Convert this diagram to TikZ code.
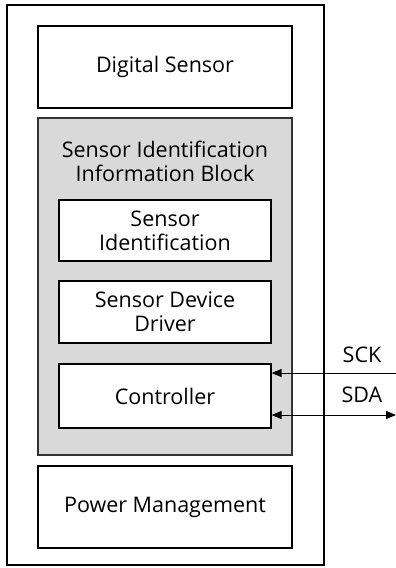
\documentclass[tikz,border=0pt]{standalone}
\usepackage{fontspec}
\setmainfont{Open Sans}
\usetikzlibrary{arrows.meta,positioning}

\tikzset{
  blockbox/.style={draw, line width=1.5pt, fill=white, minimum width=254pt, minimum height=82pt, align=center, inner sep=0pt},
  innerbox/.style={draw, line width=1.2pt, fill=white, minimum width=212pt, align=center, inner sep=0pt},
  sigarrow/.style={line width=1pt, -{Triangle[length=10pt,width=8pt]}}
}

\begin{document}
\begin{tikzpicture}[x=1pt, y=-1pt, font=\fontsize{21.5}{24}\selectfont]
            \useasboundingbox (0,0) rectangle (396,568);
            % outer frame
            \node[draw, line width=2pt, minimum width=317pt, minimum height=560pt] (chip) at (165.5,285) {};
            \node[blockbox] (digital) at (165,67) {Digital Sensor};
            \node[draw=black!80, line width=1.5pt, fill=black!15, minimum width=254pt, minimum height=337pt] (sidb) at (165,286.5) {};
            \node[align=center] (sidbtitle) at (165,161) {Sensor Identification\\Information Block};
            \node[innerbox, minimum height=61pt] (sensid) at (165,230.5) {Sensor\\Identification};
            \node[innerbox, minimum height=62pt] (driver) at (165,312) {Sensor Device\\Driver};
            \node[innerbox, minimum height=64pt] (ctrl) at (165,396) {Controller};
            \node[blockbox] (power) at (165,507) {Power Management};
            % serial bus
            \coordinate (sckin) at (396,373);
            \coordinate (sdaout) at (396,415);
            \draw[sigarrow] (sckin) -- (ctrl.east |- sckin);
            \draw[sigarrow, {Triangle[length=10pt,width=8pt]}-{Triangle[length=10pt,width=8pt]}] (ctrl.east |- sdaout) -- (sdaout);
            \node (scklabel) at (362,355) {SCK};
            \node (sdalabel) at (362,395) {SDA};
        \end{tikzpicture}
\end{document}
